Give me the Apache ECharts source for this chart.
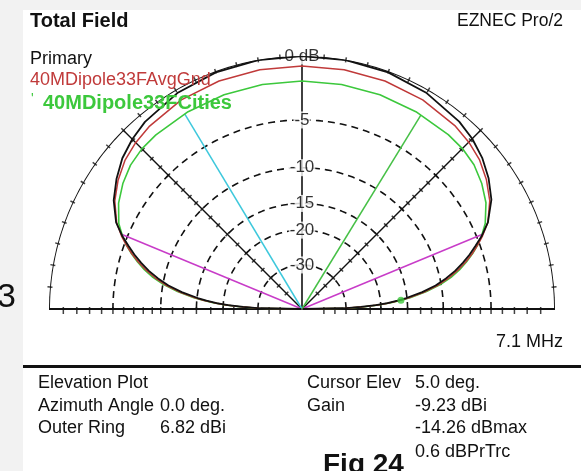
<!DOCTYPE html>
<html>
<head>
<meta charset="utf-8">
<script src="https://cdn.jsdelivr.net/npm/echarts@6/dist/echarts.min.js"></script>
<style>
  html, body { margin: 0; padding: 0; background: #f2f2f2; }
  #chart { width: 581px; height: 471px; }
</style>
</head>
<body>
<div id="chart"></div>
<script>
// Elevation pattern, azimuth 0 deg, 7.1 MHz. Gains are dB relative to the outer ring.
const outerRingDbi = 6.82;
const elevation = [0, 1, 2, 3, 4, 5, 6, 8, 10, 12, 14, 16, 18, 20, 22, 25, 30, 35, 40, 45, 50, 60, 70, 80, 90,
  100, 110, 120, 130, 135, 140, 145, 150, 155, 158, 160, 162, 164, 166, 168, 170, 172, 174, 175, 176, 177, 178, 179, 180];
const primaryDb = [-99, -31.0, -25.0, -21.1, -18.6, -16.65, -15.1, -12.6, -10.7, -9.3, -8.1, -7.1, -6.2, -5.4, -4.6, -3.6, -2.5, -1.8, -1.25, -0.85, -0.58, -0.25, -0.08, -0.02, 0,
  -0.02, -0.08, -0.25, -0.6, -0.9, -1.3, -1.9, -2.6, -3.6, -4.6, -5.4, -6.2, -7.1, -8.1, -9.3, -10.7, -12.6, -15.1, -16.65, -18.6, -21.1, -25.0, -31.0, -99];
const avgGndDb = [-99, -30.3, -24.4, -20.7, -18.2, -16.25, -14.7, -12.2, -10.35, -8.95, -7.8, -6.8, -5.95, -5.2, -4.5, -3.6, -2.65, -2.0, -1.5, -1.2, -1.0, -0.8, -0.72, -0.7, -0.7,
  -0.7, -0.72, -0.8, -1.05, -1.25, -1.55, -2.05, -2.7, -3.65, -4.5, -5.2, -5.95, -6.8, -7.8, -8.95, -10.35, -12.2, -14.7, -16.25, -18.2, -20.7, -24.4, -30.3, -99];
const citiesDb = [-99, -29.8, -24.0, -20.5, -17.9, -16.05, -14.5, -12.0, -10.1, -8.7, -7.6, -6.7, -5.9, -5.2, -4.6, -3.85, -3.0, -2.45, -2.05, -1.87, -1.82, -1.8, -1.79, -1.79, -1.79,
  -1.79, -1.79, -1.8, -1.84, -1.9, -2.1, -2.5, -3.05, -3.85, -4.6, -5.2, -5.9, -6.7, -7.6, -8.7, -10.1, -12.0, -14.5, -16.05, -17.9, -20.5, -24.0, -29.8, -99];

// Grid rings and their labels on the vertical axis
const ringDb = [-5, -10, -15, -20, -30];
const ringText = ['-5', '-10', '-15', '-20', '-30'];
// Scale ticks along the baseline and the 45 degree spokes
const scaleTickDb = [-1, -2, -3, -4, -5, -6, -7, -8, -9, -10, -11.5, -13, -15, -17.5, -20, -22.5, -26, -30, -35, -42];
// Rim ticks every 5 degrees
const rimTickAngles = [5, 10, 15, 20, 25, 30, 35, 40, 45, 50, 55, 60, 65, 70, 75, 80, 85, 90, 95, 100, 105, 110, 115, 120, 125, 130, 135, 140, 145, 150, 155, 160, 165, 170, 175];

// Marker lines drawn from the origin out to a trace
const halfPowerAngles = [22.5, 157.5];
const cyanLineAngle = 121;
const greenLineAngle = 58.5;

// Cursor readout
const cursorElev = 5.0;
const cursorGainDbi = -9.23;

// ARRL log-periodic radial scale: 0.89 per 2 dB
const rad = db => Math.pow(0.89, -db / 2);

function traceAt(arr, ang) {
  for (let i = 0; i < elevation.length - 1; i++) {
    if (ang >= elevation[i] && ang <= elevation[i + 1]) {
      const t = (ang - elevation[i]) / (elevation[i + 1] - elevation[i]);
      return arr[i] + t * (arr[i + 1] - arr[i]);
    }
  }
  return arr[arr.length - 1];
}

const toPolar = arr => elevation.map((a, i) => [rad(arr[i]), a]);
const arc = r => { const pts = []; for (let a = 0; a <= 180; a += 1) pts.push([r, a]); return pts; };

const BLACK = '#111';
const base = { type: 'line', coordinateSystem: 'polar', symbol: 'none', silent: true, animation: false };

const series = [];

// dashed rings
ringDb.forEach(db => series.push(Object.assign({}, base, {
  data: arc(rad(db)), z: 2,
  lineStyle: { color: BLACK, width: 1.6, type: [7, 5] }
})));

// outer ring
series.push(Object.assign({}, base, { data: arc(1), z: 3, lineStyle: { color: BLACK, width: 2 } }));

// baseline, spokes, vertical axis
series.push(Object.assign({}, base, { data: [[1, 0], [0, 0], [1, 180]], z: 3, lineStyle: { color: BLACK, width: 2 } }));
[45, 135].forEach(a => series.push(Object.assign({}, base, { data: [[0, a], [1, a]], z: 3, lineStyle: { color: BLACK, width: 1.4 } })));
series.push(Object.assign({}, base, { data: [[0, 90], [1, 90]], z: 3, lineStyle: { color: BLACK, width: 1.6 } }));

// ticks
const tickPts = [];
scaleTickDb.forEach(db => { tickPts.push({ value: [rad(db), 0], symbolRotate: 90 }); tickPts.push({ value: [rad(db), 180], symbolRotate: 90 }); });
series.push({ type: 'scatter', coordinateSystem: 'polar', silent: true, animation: false, z: 4,
  symbol: 'rect', symbolSize: [7, 1.5], symbolOffset: [0, 1.5], itemStyle: { color: BLACK }, data: tickPts });
const spokeTicks = [];
scaleTickDb.forEach(db => { spokeTicks.push({ value: [rad(db), 45], symbolRotate: 135 }); spokeTicks.push({ value: [rad(db), 135], symbolRotate: 45 }); });
series.push({ type: 'scatter', coordinateSystem: 'polar', silent: true, animation: false, z: 4,
  symbol: 'rect', symbolSize: [5, 1.5], itemStyle: { color: BLACK }, data: spokeTicks });
series.push({ type: 'scatter', coordinateSystem: 'polar', silent: true, animation: false, z: 4,
  symbol: 'rect', symbolSize: [5, 1.5], itemStyle: { color: BLACK },
  data: rimTickAngles.map(a => ({ value: [1, a], symbolRotate: a })) });

// marker lines
halfPowerAngles.forEach(a => series.push(Object.assign({}, base, { data: [[0, a], [rad(traceAt(primaryDb, a)), a]], z: 5,
  lineStyle: { color: '#c83cc8', width: 1.5 } })));
series.push(Object.assign({}, base, { data: [[0, cyanLineAngle], [rad(traceAt(citiesDb, cyanLineAngle)), cyanLineAngle]], z: 5,
  lineStyle: { color: '#3ec8dc', width: 1.5 } }));
series.push(Object.assign({}, base, { data: [[0, greenLineAngle], [rad(traceAt(citiesDb, greenLineAngle)), greenLineAngle]], z: 5,
  lineStyle: { color: '#46c046', width: 1.5 } }));

// ring labels on the vertical axis
const labelStyle = { show: true, position: 'inside', formatter: p => p.name, color: '#000',
  fontFamily: 'Liberation Sans', fontSize: 17, backgroundColor: '#fff', padding: [0, 1] };
series.push({ type: 'scatter', coordinateSystem: 'polar', silent: true, animation: false, z: 6,
  symbol: 'circle', symbolSize: 1, itemStyle: { color: 'rgba(0,0,0,0)' },
  data: ringDb.map((db, i) => ({ value: [rad(db), 90], name: ringText[i] })), label: labelStyle });
series.push({ type: 'scatter', coordinateSystem: 'polar', silent: true, animation: false, z: 6,
  symbol: 'circle', symbolSize: 1, itemStyle: { color: 'rgba(0,0,0,0)' },
  data: [{ value: [1, 90], name: '0 dB' }], label: labelStyle });

// pattern traces
series.push(Object.assign({}, base, { name: '40MDipole33FCities', data: toPolar(citiesDb), z: 7, lineStyle: { color: '#3cc83c', width: 1.6 } }));
series.push(Object.assign({}, base, { name: '40MDipole33FAvgGnd', data: toPolar(avgGndDb), z: 8, lineStyle: { color: '#c03a3a', width: 1.5 } }));
series.push(Object.assign({}, base, { name: 'Primary', data: toPolar(primaryDb), z: 9, lineStyle: { color: BLACK, width: 1.8 } }));

// cursor point
series.push({ type: 'scatter', coordinateSystem: 'polar', silent: true, animation: false, z: 10,
  symbol: 'circle', symbolSize: 7, itemStyle: { color: '#3cc83c' },
  data: [[rad(cursorGainDbi - outerRingDbi), cursorElev]] });

const FONT = 'Liberation Sans';
const txt = (text, x, y, extra) => ({ type: 'text', x, y, silent: true, z: 20,
  style: Object.assign({ text, fill: '#111', fontFamily: FONT, fontSize: 18, verticalAlign: 'middle' }, extra || {}) });

const chart = echarts.init(document.getElementById('chart'), null, { renderer: 'canvas' });
chart.setOption({
  animation: false,
  backgroundColor: '#f2f2f2',
  polar: { center: [302, 309], radius: 253 },
  angleAxis: { type: 'value', min: 0, max: 360, startAngle: 0, clockwise: false, show: false },
  radiusAxis: { type: 'value', min: 0, max: 1, show: false },
  graphic: [
    { type: 'rect', shape: { x: 23, y: 10, width: 560, height: 470 }, style: { fill: '#fff' }, z: -10, silent: true },
    { type: 'rect', shape: { x: 23, y: 365, width: 560, height: 3 }, style: { fill: '#111' }, z: 20, silent: true },
    txt('Total Field', 30, 21, { fontWeight: 'bold', fontSize: 20 }),
    txt('EZNEC Pro/2', 563, 21, { align: 'right', fontSize: 17.5 }),
    txt('Primary', 30, 59),
    txt('40MDipole33FAvgGnd', 30, 80, { fill: '#c03a3a' }),
    txt("'", 31, 99, { fill: '#3cc83c', fontSize: 14 }),
    txt('40MDipole33FCities', 43, 103, { fill: '#3cc83c', fontWeight: 'bold', fontSize: 20 }),
    txt('7.1 MHz', 563, 342, { align: 'right' }),
    txt('Elevation Plot', 38, 383),
    txt('Azimuth Angle', 38, 406),
    txt('Outer Ring', 38, 428),
    txt('0.0 deg.', 160, 406),
    txt(outerRingDbi.toFixed(2) + ' dBi', 160, 428),
    txt('Cursor Elev', 307, 383),
    txt('Gain', 307, 406),
    txt(cursorElev.toFixed(1) + ' deg.', 415, 383),
    txt(cursorGainDbi.toFixed(2) + ' dBi', 415, 406),
    txt('-14.26 dBmax', 415, 428),
    txt('0.6 dBPrTrc', 415, 452),
    txt('Fig 24', 323, 465, { fontWeight: 'bold', fontSize: 28 }),
    txt('3', -3, 298, { fontSize: 34 })
  ],
  series
});
</script>
</body>
</html>
